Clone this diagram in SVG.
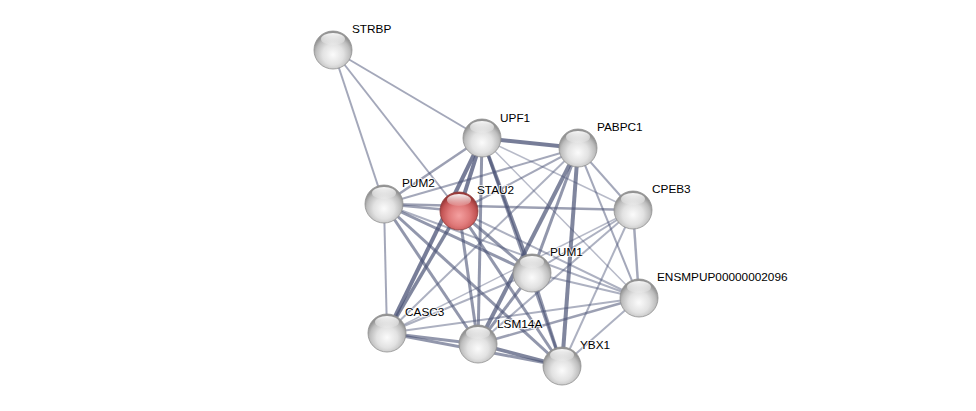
<svg xmlns="http://www.w3.org/2000/svg" width="976" height="411" viewBox="0 0 976 411">
<style>
.e{stroke:#4a5275;fill:none;stroke-linecap:butt}
.t{font-family:"Liberation Sans",Arial,sans-serif;font-size:11.8px;fill:#000;paint-order:stroke;stroke:#fff;stroke-width:2px;stroke-opacity:.8}
.b{fill:url(#gw);stroke:#8f8f8f;stroke-width:0.8}
.r{fill:url(#gr);stroke:#8a3a3a;stroke-width:0.8}
.h{fill:url(#gh)}
</style>
<defs>
<radialGradient id="gw" cx="50%" cy="62%" r="55%">
<stop offset="0" stop-color="#fbfbfb"/>
<stop offset="0.5" stop-color="#e2e2e2"/>
<stop offset="0.82" stop-color="#bdbdbd"/>
<stop offset="1" stop-color="#939393"/>
</radialGradient>
<radialGradient id="gr" cx="50%" cy="62%" r="55%">
<stop offset="0" stop-color="#f4a0a0"/>
<stop offset="0.5" stop-color="#e07a7a"/>
<stop offset="0.82" stop-color="#c45555"/>
<stop offset="1" stop-color="#9c3a3a"/>
</radialGradient>
<linearGradient id="gh" x1="0" y1="0" x2="0" y2="1">
<stop offset="0" stop-color="#fff" stop-opacity="0.95"/>
<stop offset="1" stop-color="#fff" stop-opacity="0.1"/>
</linearGradient>
</defs>
<g id="edges">
<line class="e" x1="333" y1="50" x2="482" y2="138" stroke-width="2" stroke-opacity=".5"/>
<line class="e" x1="333" y1="50" x2="384" y2="204" stroke-width="2" stroke-opacity=".5"/>
<line class="e" x1="333" y1="50" x2="459" y2="211" stroke-width="2" stroke-opacity=".5"/>
<line class="e" x1="482" y1="138" x2="578" y2="148" stroke-width="4" stroke-opacity=".75"/>
<line class="e" x1="482" y1="138" x2="384" y2="204" stroke-width="2.5" stroke-opacity=".55"/>
<line class="e" x1="482" y1="138" x2="459" y2="211" stroke-width="4" stroke-opacity=".75"/>
<line class="e" x1="482" y1="138" x2="387" y2="333" stroke-width="4" stroke-opacity=".75"/>
<line class="e" x1="482" y1="138" x2="478" y2="344" stroke-width="3" stroke-opacity=".6"/>
<line class="e" x1="482" y1="138" x2="532" y2="273" stroke-width="3.5" stroke-opacity=".7"/>
<line class="e" x1="482" y1="138" x2="562" y2="366" stroke-width="3" stroke-opacity=".6"/>
<line class="e" x1="482" y1="138" x2="633" y2="210" stroke-width="1.5" stroke-opacity=".4"/>
<line class="e" x1="482" y1="138" x2="639" y2="298" stroke-width="1.5" stroke-opacity=".4"/>
<line class="e" x1="578" y1="148" x2="384" y2="204" stroke-width="2" stroke-opacity=".5"/>
<line class="e" x1="578" y1="148" x2="459" y2="211" stroke-width="2" stroke-opacity=".5"/>
<line class="e" x1="578" y1="148" x2="633" y2="210" stroke-width="2" stroke-opacity=".5"/>
<line class="e" x1="578" y1="148" x2="639" y2="298" stroke-width="2" stroke-opacity=".5"/>
<line class="e" x1="578" y1="148" x2="532" y2="273" stroke-width="3" stroke-opacity=".6"/>
<line class="e" x1="578" y1="148" x2="562" y2="366" stroke-width="4" stroke-opacity=".7"/>
<line class="e" x1="578" y1="148" x2="478" y2="344" stroke-width="4" stroke-opacity=".7"/>
<line class="e" x1="578" y1="148" x2="387" y2="333" stroke-width="2" stroke-opacity=".45"/>
<line class="e" x1="384" y1="204" x2="459" y2="211" stroke-width="2.5" stroke-opacity=".55"/>
<line class="e" x1="384" y1="204" x2="633" y2="210" stroke-width="2.5" stroke-opacity=".55"/>
<line class="e" x1="384" y1="204" x2="387" y2="333" stroke-width="2" stroke-opacity=".5"/>
<line class="e" x1="384" y1="204" x2="532" y2="273" stroke-width="3" stroke-opacity=".6"/>
<line class="e" x1="384" y1="204" x2="478" y2="344" stroke-width="3" stroke-opacity=".6"/>
<line class="e" x1="384" y1="204" x2="562" y2="366" stroke-width="3" stroke-opacity=".6"/>
<line class="e" x1="384" y1="204" x2="639" y2="298" stroke-width="2" stroke-opacity=".45"/>
<line class="e" x1="459" y1="211" x2="387" y2="333" stroke-width="3.5" stroke-opacity=".7"/>
<line class="e" x1="459" y1="211" x2="478" y2="344" stroke-width="3" stroke-opacity=".6"/>
<line class="e" x1="459" y1="211" x2="532" y2="273" stroke-width="3" stroke-opacity=".6"/>
<line class="e" x1="459" y1="211" x2="562" y2="366" stroke-width="3" stroke-opacity=".6"/>
<line class="e" x1="459" y1="211" x2="639" y2="298" stroke-width="2" stroke-opacity=".45"/>
<line class="e" x1="633" y1="210" x2="532" y2="273" stroke-width="2" stroke-opacity=".45"/>
<line class="e" x1="633" y1="210" x2="639" y2="298" stroke-width="2.5" stroke-opacity=".5"/>
<line class="e" x1="633" y1="210" x2="478" y2="344" stroke-width="2" stroke-opacity=".45"/>
<line class="e" x1="633" y1="210" x2="387" y2="333" stroke-width="1.5" stroke-opacity=".4"/>
<line class="e" x1="633" y1="210" x2="562" y2="366" stroke-width="2" stroke-opacity=".45"/>
<line class="e" x1="532" y1="273" x2="387" y2="333" stroke-width="2" stroke-opacity=".45"/>
<line class="e" x1="532" y1="273" x2="478" y2="344" stroke-width="3" stroke-opacity=".6"/>
<line class="e" x1="532" y1="273" x2="562" y2="366" stroke-width="3" stroke-opacity=".6"/>
<line class="e" x1="532" y1="273" x2="639" y2="298" stroke-width="2" stroke-opacity=".45"/>
<line class="e" x1="387" y1="333" x2="478" y2="344" stroke-width="3" stroke-opacity=".6"/>
<line class="e" x1="387" y1="333" x2="562" y2="366" stroke-width="3" stroke-opacity=".6"/>
<line class="e" x1="387" y1="333" x2="639" y2="298" stroke-width="2" stroke-opacity=".45"/>
<line class="e" x1="478" y1="344" x2="562" y2="366" stroke-width="3.5" stroke-opacity=".7"/>
<line class="e" x1="478" y1="344" x2="639" y2="298" stroke-width="2.5" stroke-opacity=".55"/>
<line class="e" x1="562" y1="366" x2="639" y2="298" stroke-width="2" stroke-opacity=".45"/>
</g>
<g id="STRBP"><circle class="b" cx="333" cy="50" r="19"/><ellipse class="h" cx="333" cy="39" rx="12" ry="6"/><text class="t" x="352" y="33">STRBP</text></g>
<g id="UPF1"><circle class="b" cx="482" cy="138" r="19"/><ellipse class="h" cx="482" cy="127" rx="12" ry="6"/><text class="t" x="500" y="122">UPF1</text></g>
<g id="PABPC1"><circle class="b" cx="578" cy="148" r="19"/><ellipse class="h" cx="578" cy="137" rx="12" ry="6"/><text class="t" x="597" y="131">PABPC1</text></g>
<g id="PUM2"><circle class="b" cx="384" cy="204" r="19"/><ellipse class="h" cx="384" cy="193" rx="12" ry="6"/><text class="t" x="402" y="187">PUM2</text></g>
<g id="STAU2"><circle class="r" cx="459" cy="211" r="19"/><ellipse class="h" cx="459" cy="200" rx="12" ry="6"/><text class="t" x="477" y="194">STAU2</text></g>
<g id="CPEB3"><circle class="b" cx="633" cy="210" r="19"/><ellipse class="h" cx="633" cy="199" rx="12" ry="6"/><text class="t" x="652" y="193">CPEB3</text></g>
<g id="PUM1"><circle class="b" cx="532" cy="273" r="19"/><ellipse class="h" cx="532" cy="262" rx="12" ry="6"/><text class="t" x="550" y="256">PUM1</text></g>
<g id="ENSMPUP00000002096"><circle class="b" cx="639" cy="298" r="19"/><ellipse class="h" cx="639" cy="287" rx="12" ry="6"/><text class="t" x="657" y="281">ENSMPUP00000002096</text></g>
<g id="CASC3"><circle class="b" cx="387" cy="333" r="19"/><ellipse class="h" cx="387" cy="322" rx="12" ry="6"/><text class="t" x="405" y="316">CASC3</text></g>
<g id="LSM14A"><circle class="b" cx="478" cy="344" r="19"/><ellipse class="h" cx="478" cy="333" rx="12" ry="6"/><text class="t" x="497" y="328">LSM14A</text></g>
<g id="YBX1"><circle class="b" cx="562" cy="366" r="19"/><ellipse class="h" cx="562" cy="355" rx="12" ry="6"/><text class="t" x="580" y="349">YBX1</text></g>
</svg>
